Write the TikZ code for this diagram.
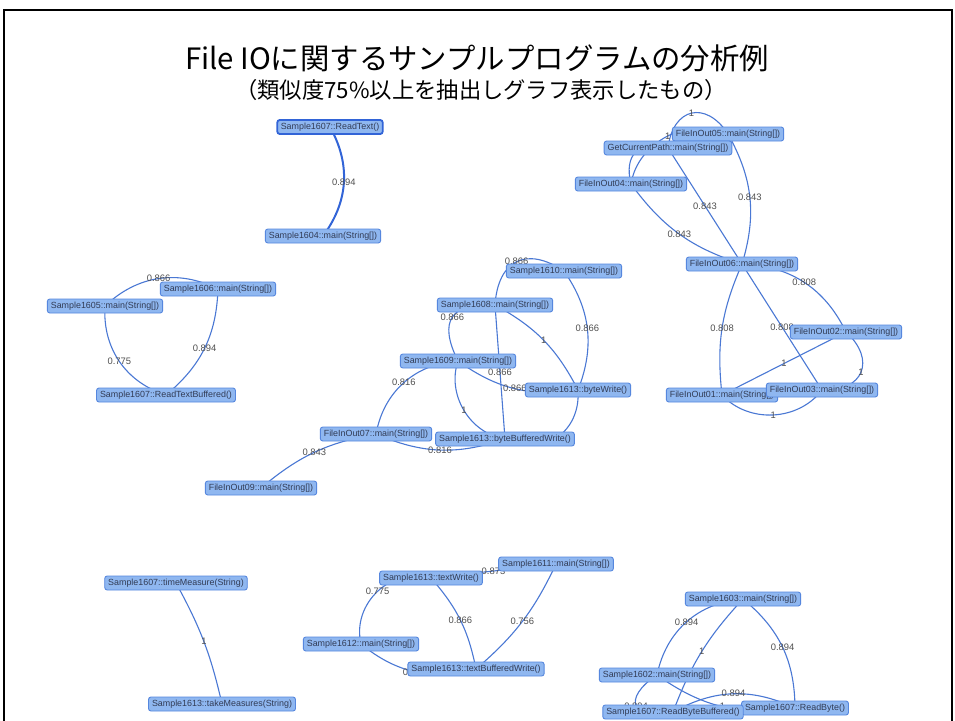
\documentclass[tikz,border=0pt]{standalone}
\usepackage{fontspec}
\setmainfont{Liberation Sans}
\newfontfamily\cjkfont{Noto Sans CJK JP}
\pgfdeclarelayer{back}
\pgfdeclarelayer{bg}
\pgfsetlayers{back,bg,main}
\definecolor{nfill}{RGB}{143,183,240}
\definecolor{nborder}{RGB}{86,135,222}
\definecolor{selc}{RGB}{50,100,215}
\definecolor{edgec}{RGB}{74,120,212}
\definecolor{ntext}{RGB}{50,60,85}
\definecolor{ltext}{RGB}{80,80,80}
\tikzset{
  gnode/.style={draw=nborder, fill=nfill, rounded corners=2.5pt, line width=0.9pt,
    inner xsep=3.5pt, inner ysep=0pt, minimum height=14pt, text=ntext,
    font=\fontsize{8.9}{9}\selectfont},
  selnode/.style={gnode, draw=selc, line width=1.8pt},
  link/.style={draw=edgec, line width=1.1pt},
  sellink/.style={draw=selc, line width=2pt},
  lbl/.style={font=\fontsize{9.4}{10}\selectfont, text=ltext, inner sep=0pt}
}
\begin{document}
\begin{tikzpicture}[x=1pt,y=-1pt]
\useasboundingbox (0,0) rectangle (955,720);
\begin{pgfonlayer}{back}
\fill[white] (0,0) rectangle (955,720);
\end{pgfonlayer}
\draw[line width=2pt] (4,730) -- (4,10) -- (952,10) -- (952,730);

\node[font=\cjkfont\fontsize{29.4}{32}\selectfont] (title) at (477,58) {File IOに関するサンプルプログラムの分析例};
\node[font=\cjkfont\fontsize{22.3}{25}\selectfont] (sub) at (481,90) {（類似度75\%以上を抽出しグラフ表示したもの）};

% nodes
\node[selnode] (rt) at (330,127) {Sample1607::ReadText()};
\node[gnode] (s1604) at (323,236) {Sample1604::main(String[])};
\node[gnode] (s1605) at (105,306) {Sample1605::main(String[])};
\node[gnode] (s1606) at (218,289) {Sample1606::main(String[])};
\node[gnode] (rtb) at (166,395) {Sample1607::ReadTextBuffered()};
\node[gnode] (s1610) at (564,271) {Sample1610::main(String[])};
\node[gnode] (s1608) at (495,305) {Sample1608::main(String[])};
\node[gnode] (s1609) at (458,361) {Sample1609::main(String[])};
\node[gnode] (bw) at (578,390) {Sample1613::byteWrite()};
\node[gnode] (bbw) at (505,439) {Sample1613::byteBufferedWrite()};
\node[gnode] (f07) at (376,434) {FileInOut07::main(String[])};
\node[gnode] (f09) at (261,488) {FileInOut09::main(String[])};
\node[gnode] (f05) at (728,134) {FileInOut05::main(String[])};
\node[gnode] (gcp) at (668,148) {GetCurrentPath::main(String[])};
\node[gnode] (f04) at (631,184) {FileInOut04::main(String[])};
\node[gnode] (f06) at (742,264) {FileInOut06::main(String[])};
\node[gnode] (f02) at (846,332) {FileInOut02::main(String[])};
\node[gnode] (f01) at (722,395) {FileInOut01::main(String[])};
\node[gnode] (f03) at (822,390) {FileInOut03::main(String[])};
\node[gnode] (tm) at (176,583) {Sample1607::timeMeasure(String)};
\node[gnode] (tkm) at (222,704) {Sample1613::takeMeasures(String)};
\node[gnode] (tw) at (431,578) {Sample1613::textWrite()};
\node[gnode] (s1611) at (556,564) {Sample1611::main(String[])};
\node[gnode] (s1612) at (361,644) {Sample1612::main(String[])};
\node[gnode] (tbw) at (476,669) {Sample1613::textBufferedWrite()};
\node[gnode] (s1603) at (743,599) {Sample1603::main(String[])};
\node[gnode] (s1602) at (657,675) {Sample1602::main(String[])};
\node[gnode] (rb) at (795,708) {Sample1607::ReadByte()};
\node[gnode] (rbb) at (673,712) {Sample1607::ReadByteBuffered()};

\begin{pgfonlayer}{bg}
\draw[sellink] (rt.center) to[bend left=33] node[lbl]{0.894} (s1604.center);

\draw[link] (s1605.center) to[bend left=35] node[lbl]{0.866} (s1606.center);
\draw[link] (s1605.center) to[bend right=38] node[lbl]{0.775} (rtb.center);
\draw[link] (s1606.center) to[bend left=24] node[lbl]{0.894} (rtb.center);

\draw[link] (s1608.center) to[bend left=60, looseness=1.5] node[lbl]{0.866} (s1610.center);
\draw[link] (s1608.center) -- node[lbl]{0.866} (bbw.center);
\draw[link] (s1608.center) to[bend right=60, looseness=1.7] node[lbl]{0.866} (s1609.center);
\draw[link] (s1608.center) to[bend left=17] node[lbl]{1} (bw.center);
\draw[link] (s1610.center) to[bend left=28] node[lbl]{0.866} (bw.center);
\draw[link] (bw.center) to[bend left=60, looseness=1.24] node[lbl]{0.866} (bbw.center);
\draw[link] (s1609.center) to[bend right=22] node[lbl]{0.866} (bw.center);
\draw[link] (s1609.center) to[bend right=50] node[lbl]{1} (bbw.center);
\draw[link] (s1609.center) to[bend right=38] node[lbl]{0.816} (f07.center);
\draw[link] (f07.center) to[bend right=21] node[lbl]{0.816} (bbw.center);
\draw[link] (f07.center) to[bend right=15] node[lbl]{0.843} (f09.center);

\draw[link] (f05.center) to[bend right=70, looseness=1.69] node[lbl]{1} (gcp.center);
\draw[link] (f04.center) to[bend left=54] node[lbl]{1} (f05.center);
\draw[link] (gcp.center) to[bend right=60, looseness=1.5] (f04.center);
\draw[link] (f05.center) to[bend left=23] node[lbl]{0.843} (f06.center);
\draw[link] (gcp.center) -- node[lbl]{0.843} (f06.center);
\draw[link] (f04.center) to[bend right=18] node[lbl]{0.843} (f06.center);
\draw[link] (f06.center) to[bend left=31] node[lbl]{0.808} (f02.center);
\draw[link] (f06.center) to[bend right=15] node[lbl]{0.808} (f01.center);
\draw[link] (f06.center) -- node[lbl]{0.808} (f03.center);
\draw[link] (f01.center) -- node[lbl]{1} (f02.center);
\draw[link] (f02.center) to[bend left=70, looseness=1.69] node[lbl]{1} (f03.center);
\draw[link] (f01.center) to[bend right=50] node[lbl]{1} (f03.center);

\draw[link] (tm.center) to[bend left=8] node[lbl]{1} (tkm.center);

\draw[link] (tw.center) -- node[lbl]{0.873} (s1611.center);
\draw[link] (tw.center) to[bend right=60, looseness=1.1] node[lbl]{0.775} (s1612.center);
\draw[link] (tw.center) to[bend left=15] node[lbl]{0.866} (tbw.center);
\draw[link] (s1611.center) to[bend left=12] node[lbl]{0.756} (tbw.center);
\draw[link] (s1612.center) to[bend right=27] (tbw.center);
\node[lbl] (zero) at ([xshift=-2pt,yshift=-3pt]tbw.west) {0};

\draw[link] (s1603.center) to[bend right=37] node[lbl]{0.894} (s1602.center);
\draw[link] (s1603.center) to[bend right=11] node[lbl]{1} (rbb.center);
\draw[link] (s1603.center) to[bend left=25] node[lbl]{0.894} (rb.center);
\draw[link] (s1602.center) to[bend right=80, looseness=2.7] node[lbl]{0.894} (rbb.center);
\draw[link] (rbb.center) to[bend left=27] node[lbl]{0.894} (rb.center);
\draw[link] (s1602.center) to[bend right=22] node[lbl]{1} (rb.center);
\end{pgfonlayer}
\end{tikzpicture}
\end{document}
